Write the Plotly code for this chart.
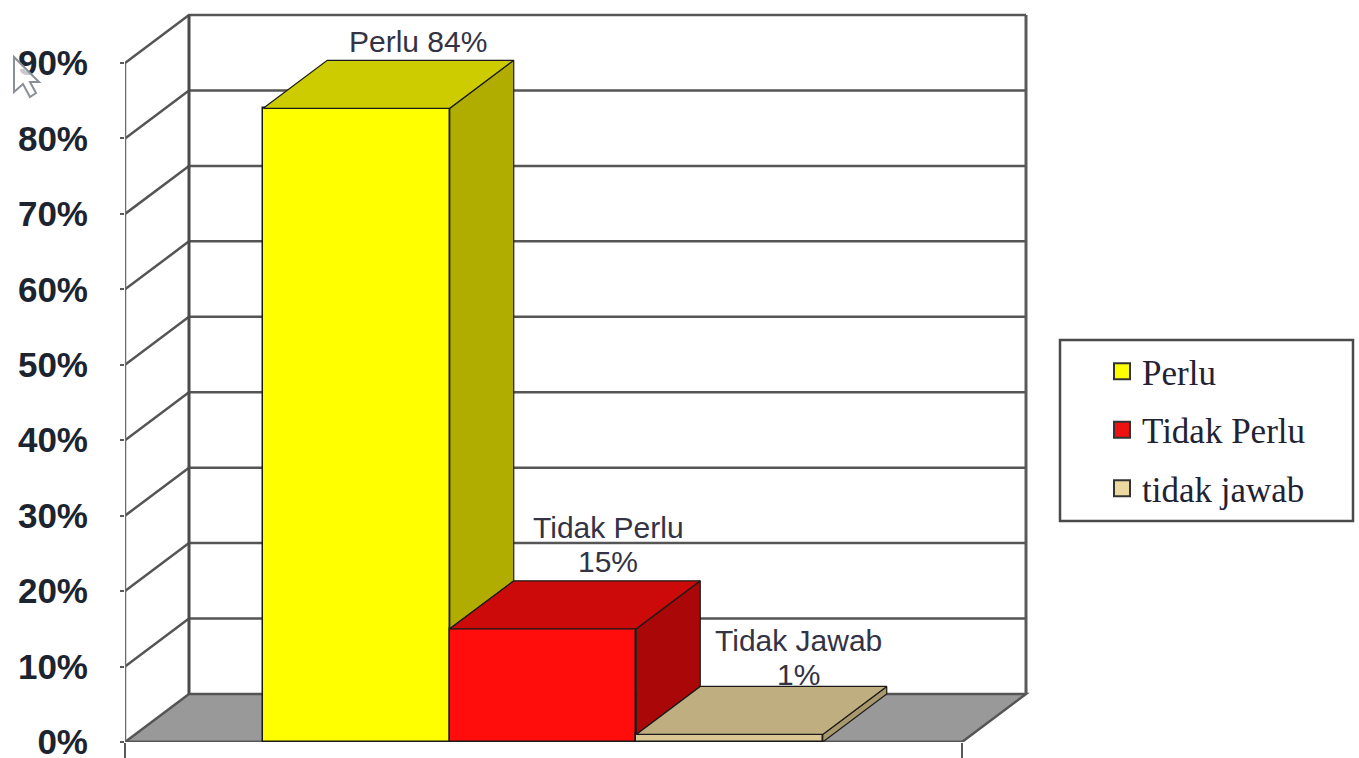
import plotly.graph_objects as go

# ---- data ----
categories = ["Perlu", "Tidak Perlu", "tidak jawab"]
values = [84, 15, 1]
point_labels = ["Perlu 84%", "Tidak Perlu<br>15%", "Tidak Jawab<br>1%"]
tick_values = [0, 10, 20, 30, 40, 50, 60, 70, 80, 90]
tick_labels = ["0%", "10%", "20%", "30%", "40%", "50%", "60%", "70%", "80%", "90%"]

# ---- styles / pseudo-3D geometry ----
front_colors = ["#FFFF00", "#FF0D0D", "#D9C794"]
top_colors = ["#CCCC00", "#CC0A0A", "#BFAE80"]
side_colors = ["#B0AC00", "#AA0808", "#A8986C"]
legend_colors = ["#FFFF00", "#EE1111", "#EBD9A0"]

W, H = 1359, 758
PL, PR, PB = 125, 1030, 742       # plot area pixel bounds
PX_PER_SLOT = 186.5
PX_PER_PCT = 7.544
X0_PX = 356.5                     # pixel centre of first category
DEPTH_X = 64 / PX_PER_SLOT
DEPTH_Y = 48 / PX_PER_PCT
X_MIN = (PL - X0_PX) / PX_PER_SLOT
X_MAX = (PR - X0_PX) / PX_PER_SLOT
X_END = (962 - X0_PX) / PX_PER_SLOT
Y_MAX = PB / PX_PER_PCT
EDGE = "#1a1a1a"
GRID = "#555555"

fig = go.Figure()
shapes = []


def seg(pts, color=GRID, width=2.5, fill=None):
    path = "M" + " L".join(f"{x},{y}" for x, y in pts)
    if fill:
        path += " Z"
    shapes.append(dict(type="path", path=path, xref="x", yref="y", layer="below",
                       line=dict(color=color, width=width), fillcolor=fill))


top_tick = tick_values[-1]
# floor
seg([(X_MIN, 0), (X_MIN + DEPTH_X, DEPTH_Y), (X_END + DEPTH_X, DEPTH_Y), (X_END, 0)],
    color="#555555", fill="#999999")
# grid lines: side wall and back wall
for v in tick_values[1:]:
    seg([(X_MIN, v), (X_MIN + DEPTH_X, v + DEPTH_Y), (X_END + DEPTH_X, v + DEPTH_Y)])
# frame
seg([(X_MIN, 0), (X_MIN, top_tick)], color="#6a6a6a")
seg([(X_MIN + DEPTH_X, DEPTH_Y), (X_MIN + DEPTH_X, top_tick + DEPTH_Y)], color="#4a4a4a", width=3)
seg([(X_END + DEPTH_X, DEPTH_Y), (X_END + DEPTH_X, top_tick + DEPTH_Y)], color="#5a5a5a", width=3)
seg([(X_MIN, 0), (X_END, 0)], color="#555555")

# bar front faces
fig.add_trace(go.Bar(
    x=list(range(len(categories))), y=values, width=1,
    marker=dict(color=front_colors, line=dict(color=EDGE, width=1.5)),
    showlegend=False, hoverinfo="skip"))

# bar top and side faces; a side face stops where the next bar covers it
for i, v in enumerate(values):
    l, r = i - 0.5, i + 0.5
    below = values[i + 1] if i + 1 < len(values) else 0
    fig.add_trace(go.Scatter(
        x=[r, r + DEPTH_X, r + DEPTH_X, r, r],
        y=[v, v + DEPTH_Y, below + DEPTH_Y, below, v],
        mode="lines", fill="toself", fillcolor=side_colors[i],
        line=dict(color=EDGE, width=1.2), showlegend=False, hoverinfo="skip"))
for i, v in enumerate(values):
    l, r = i - 0.5, i + 0.5
    fig.add_trace(go.Scatter(
        x=[l, l + DEPTH_X, r + DEPTH_X, r, l],
        y=[v, v + DEPTH_Y, v + DEPTH_Y, v, v],
        mode="lines", fill="toself", fillcolor=top_colors[i],
        line=dict(color=EDGE, width=1.2), showlegend=False, hoverinfo="skip"))

# legend entries
for i, name in enumerate(categories):
    fig.add_trace(go.Scatter(
        x=[None], y=[None], mode="markers", name=name, legendgroup=name,
        marker=dict(symbol="square", size=18, color=legend_colors[i],
                    line=dict(color="#333333", width=2))))

# data labels, one annotation per text line
label_px = [(418, [41]), (608, [527, 561]), (798, [640, 674])]
annotations = []
for text, (px, rows) in zip(point_labels, label_px):
    for line, py in zip(text.split("<br>"), rows):
        annotations.append(dict(
            x=(px - X0_PX) / PX_PER_SLOT, y=(PB - py) / PX_PER_PCT, xref="x", yref="y",
            text=line, showarrow=False, align="center",
            font=dict(family="Liberation Sans", size=30, color="#333344")))


def paper(px, py):
    return (px - PL) / (PR - PL), (PB - py) / PB


# legend frame
x0, y0 = paper(1060, 340)
x1, y1 = paper(1353, 521)
shapes.append(dict(type="rect", xref="paper", yref="paper", x0=x0, y0=y0, x1=x1, y1=y1,
                   line=dict(color="#4a4a4a", width=2.5), fillcolor="white", layer="below"))

# mouse pointer overlay from the screenshot
cursor_px = [(14, 57), (14, 92), (23, 84), (30, 97), (36, 93), (30, 82), (39, 82)]
cursor = "M" + " L".join("{},{}".format(*paper(a, b)) for a, b in cursor_px) + " Z"
shapes.append(dict(type="path", path=cursor, xref="paper", yref="paper", layer="above",
                   line=dict(color="#8a9098", width=2), fillcolor="rgba(255,255,255,0.75)"))

lx, ly = paper(1102, 342)
fig.update_layout(
    width=W, height=H, margin=dict(l=PL, r=W - PR, t=0, b=H - PB, pad=0, autoexpand=False),
    paper_bgcolor="white", plot_bgcolor="white", shapes=shapes, annotations=annotations,
    bargap=0,
    legend=dict(x=lx, y=ly, xanchor="left", yanchor="top", bgcolor="rgba(0,0,0,0)",
                traceorder="grouped", tracegroupgap=10,
                font=dict(family="Liberation Serif", size=35, color="#222233")),
    xaxis=dict(range=[X_MIN, X_MAX], showgrid=False, zeroline=False, showline=False,
               tickmode="array", tickvals=[X_MIN, X_END], ticktext=["", ""],
               ticks="outside", ticklen=16, tickwidth=2, tickcolor="#5a5a5a", automargin=False),
    yaxis=dict(range=[0, Y_MAX], showgrid=False, zeroline=False, showline=False,
               tickmode="array", tickvals=tick_values, ticktext=tick_labels,
               ticks="outside", ticklen=4, tickwidth=2, tickcolor="#5a5a5a",
               ticklabelstandoff=25, ticklabeloverflow="allow", automargin=False,
               tickfont=dict(family="Liberation Sans", size=35, color="#1c2430",
                             weight="bold")),
)
fig.write_html("out.html", config={"displayModeBar": False},
               post_script="document.body.style.margin='0';")
